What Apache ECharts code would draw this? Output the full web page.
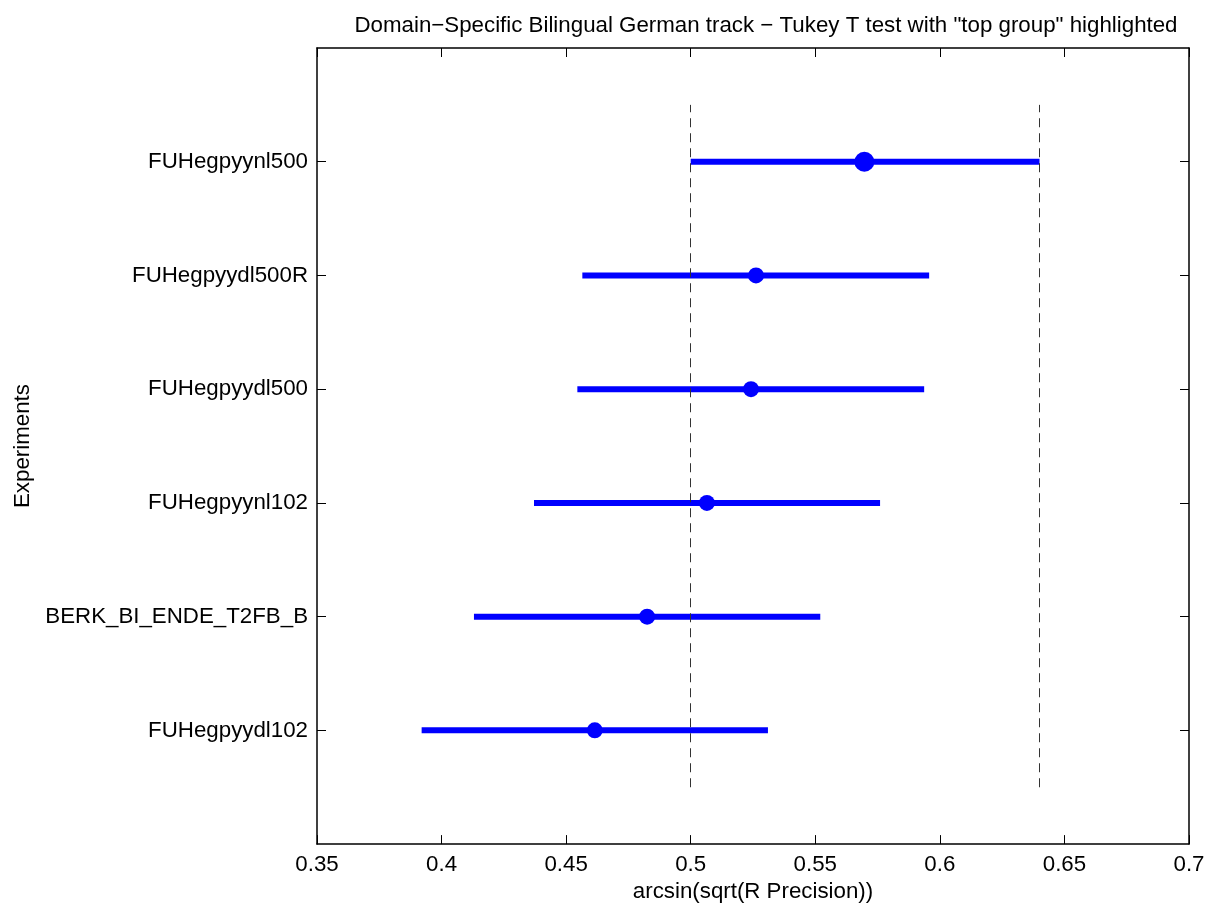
<!DOCTYPE html>
<html><head><meta charset="utf-8">
<script src="https://cdn.jsdelivr.net/npm/echarts@6/dist/echarts.min.js"></script>
<style>html,body{margin:0;padding:0;background:#fff}#c{width:1209px;height:908px}</style>
</head><body><div id="c"></div>
<script>
// bottom to top
const experiments = ['FUHegpyydl102','BERK_BI_ENDE_T2FB_B','FUHegpyynl102','FUHegpyydl500','FUHegpyydl500R','FUHegpyynl500'];
const means = [0.4615, 0.4825, 0.5065, 0.5242, 0.5262, 0.5697];
const lower = [0.392, 0.413, 0.4371, 0.4545, 0.4565, 0.5];
const upper = [0.531, 0.552, 0.576, 0.5937, 0.5957, 0.64];
const topGroup = [false, false, false, false, false, true];
const groupBounds = [0.5, 0.64];
const xTicks = [0.35, 0.4, 0.45, 0.5, 0.55, 0.6, 0.65, 0.7];

const FONT = 'Liberation Sans, Arial, sans-serif';
const FS = 22.3;
const data = experiments.map((n, i) => [i + 1, lower[i], means[i], upper[i], topGroup[i] ? 1 : 0]);

const chart = echarts.init(document.getElementById('c'));
chart.setOption({
  animation: false,
  title: {
    text: 'Domain\u2212Specific Bilingual German track \u2212 Tukey T test with "top group" highlighted',
    left: 761, top: 10, textAlign: 'center',
    textStyle: {fontFamily: FONT, fontSize: FS, fontWeight: 'normal', color: '#000'}
  },
  grid: {left: 317, right: 20, top: 48, bottom: 62},
  xAxis: [{
    type: 'value', min: 0.35, max: 0.7, interval: 0.05, position: 'bottom',
    name: 'arcsin(sqrt(R Precision))', nameLocation: 'middle', nameGap: 31,
    nameTextStyle: {fontFamily: FONT, fontSize: FS, color: '#000'},
    axisLine: {show: true, onZero: false, lineStyle: {color: '#000', width: 1.5}},
    axisTick: {show: true, inside: true, length: 9, lineStyle: {color: '#000'}},
    axisLabel: {fontFamily: FONT, fontSize: FS, color: '#000', margin: 10,
      formatter: v => { const f = xTicks.find(t => Math.abs(t - v) < 1e-9); return f === undefined ? '' : String(+f.toFixed(2)); }},
    splitLine: {show: false}
  }, {
    type: 'value', min: 0.35, max: 0.7, interval: 0.05, position: 'top',
    axisLine: {show: true, onZero: false, lineStyle: {color: '#000', width: 1.5}},
    axisTick: {show: true, inside: true, length: 9, lineStyle: {color: '#000'}},
    axisLabel: {show: false}, splitLine: {show: false}
  }],
  yAxis: [{
    type: 'value', min: 0, max: 7, interval: 1, position: 'left',
    name: 'Experiments', nameLocation: 'middle', nameGap: 283, nameRotate: 90,
    nameTextStyle: {fontFamily: FONT, fontSize: FS, color: '#000'},
    axisLine: {show: true, onZero: false, lineStyle: {color: '#000', width: 1.5}},
    axisTick: {show: true, inside: true, length: 9, lineStyle: {color: '#000'},
      customValues: [1,2,3,4,5,6]},
    axisLabel: {fontFamily: FONT, fontSize: FS, color: '#000', margin: 9,
      customValues: [1,2,3,4,5,6],
      formatter: v => experiments[Math.round(v) - 1] || ''},
    splitLine: {show: false}
  }, {
    type: 'value', min: 0, max: 7, interval: 1, position: 'right',
    axisLine: {show: true, onZero: false, lineStyle: {color: '#000', width: 1.5}},
    axisTick: {show: true, inside: true, length: 9, lineStyle: {color: '#000'},
      customValues: [1,2,3,4,5,6]},
    axisLabel: {show: false}, splitLine: {show: false}
  }],
  series: [{
    type: 'line', xAxisIndex: 0, yAxisIndex: 0, silent: true, data: [],
    markLine: {
      symbol: 'none', silent: true, label: {show: false},
      lineStyle: {type: [9, 6], color: '#333', width: 1},
      data: groupBounds.map(b => [{coord: [b, 0.5]}, {coord: [b, 6.5]}])
    }
  }, {
    type: 'custom', xAxisIndex: 0, yAxisIndex: 0, silent: true,
    data: data,
    renderItem: (params, api) => {
      const y = api.value(0);
      const p1 = api.coord([api.value(1), y]);
      const pm = api.coord([api.value(2), y]);
      const p2 = api.coord([api.value(3), y]);
      const r = api.value(4) ? 10 : 8;
      return {type: 'group', children: [
        {type: 'line', shape: {x1: p1[0], y1: p1[1], x2: p2[0], y2: p2[1]},
          style: {stroke: '#0000ff', lineWidth: 6}},
        {type: 'circle', shape: {cx: pm[0], cy: pm[1], r: r}, style: {fill: '#0000ff'}}
      ]};
    },
    encode: {x: [1, 2, 3], y: 0}
  }]
});
</script></body></html>
